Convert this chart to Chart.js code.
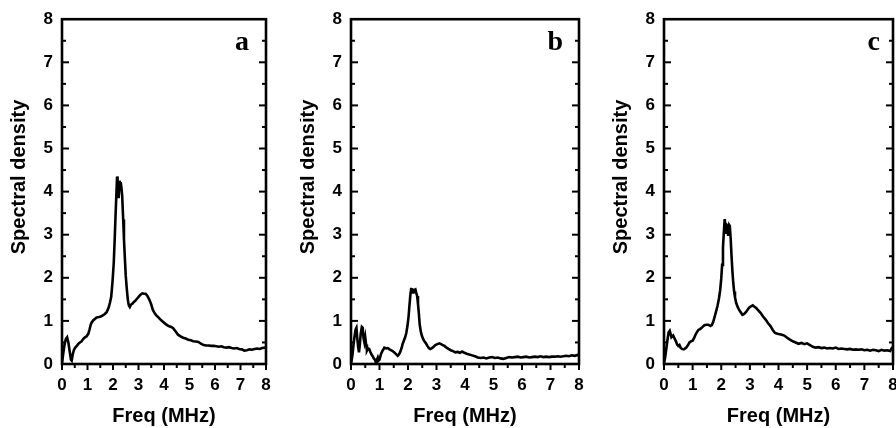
<!DOCTYPE html>
<html>
<head>
<meta charset="utf-8">
<script src="https://cdn.jsdelivr.net/npm/chart.js@4/dist/chart.umd.min.js"></script>
<style>
  html, body { margin:0; padding:0; background:#fff; overflow:hidden; width:896px; height:428px; }
  .pane { position:absolute; top:0; }
</style>
</head>
<body>
<div class="pane" style="left:0px"><canvas id="ca" width="300" height="428"></canvas></div>
<div class="pane" style="left:300px"><canvas id="cb" width="300" height="428"></canvas></div>
<div class="pane" style="left:600px"><canvas id="cc" width="310" height="428"></canvas></div>
<script>
// ---------- data ----------
const xTicks = [0,1,2,3,4,5,6,7,8];
const yTicks = [0,1,2,3,4,5,6,7,8];
const panelLetters = ['a','b','c'];
const xTitle = 'Freq (MHz)';
const yTitle = 'Spectral density';

const freqA = [0.00,0.05,0.10,0.15,0.20,0.25,0.30,0.35,0.38,0.42,0.47,0.52,0.58,0.63,0.70,0.76,0.83,0.90,0.96,1.03,1.08,1.12,1.16,1.22,1.30,1.36,1.45,1.52,1.60,1.68,1.75,1.83,1.88,1.93,1.98,2.03,2.07,2.10,2.13,2.16,2.18,2.20,2.22,2.24,2.26,2.28,2.30,2.33,2.36,2.40,2.43,2.47,2.50,2.54,2.58,2.62,2.66,2.71,2.76,2.82,2.88,2.95,3.02,3.08,3.15,3.22,3.28,3.35,3.42,3.50,3.56,3.63,3.70,3.78,3.88,3.98,4.08,4.18,4.28,4.36,4.45,4.55,4.65,4.75,4.85,4.95,5.05,5.15,5.25,5.35,5.45,5.55,5.65,5.75,5.85,5.95,6.05,6.15,6.25,6.35,6.45,6.55,6.65,6.75,6.85,6.95,7.05,7.15,7.25,7.35,7.45,7.55,7.65,7.75,7.85,7.95,8.00];
const densA = [0.02,0.25,0.45,0.58,0.62,0.50,0.30,0.10,0.08,0.22,0.33,0.38,0.42,0.46,0.50,0.52,0.58,0.62,0.64,0.70,0.80,0.90,0.96,1.01,1.05,1.08,1.09,1.10,1.13,1.16,1.20,1.31,1.42,1.56,1.90,2.35,2.95,3.45,3.90,4.35,4.25,3.95,3.85,4.05,4.25,4.18,4.22,4.10,3.90,3.35,2.90,2.40,2.05,1.75,1.50,1.36,1.32,1.38,1.40,1.44,1.47,1.52,1.57,1.61,1.64,1.63,1.63,1.58,1.50,1.38,1.26,1.18,1.13,1.08,1.02,0.97,0.92,0.88,0.86,0.83,0.76,0.68,0.64,0.61,0.59,0.56,0.55,0.53,0.52,0.51,0.47,0.44,0.43,0.43,0.42,0.42,0.41,0.40,0.41,0.39,0.38,0.39,0.37,0.36,0.37,0.35,0.34,0.31,0.32,0.34,0.33,0.35,0.36,0.35,0.37,0.38,0.37];

const freqB = [0.00,0.05,0.08,0.12,0.16,0.19,0.22,0.25,0.28,0.31,0.34,0.38,0.41,0.44,0.47,0.50,0.53,0.56,0.60,0.64,0.68,0.72,0.76,0.80,0.84,0.88,0.91,0.94,0.97,1.00,1.05,1.10,1.17,1.23,1.29,1.35,1.40,1.46,1.52,1.58,1.64,1.68,1.72,1.77,1.81,1.86,1.90,1.94,1.98,2.02,2.05,2.08,2.11,2.14,2.17,2.20,2.23,2.26,2.29,2.32,2.35,2.38,2.41,2.45,2.49,2.53,2.58,2.63,2.68,2.73,2.78,2.84,2.90,2.96,3.03,3.10,3.16,3.22,3.28,3.35,3.42,3.50,3.58,3.66,3.74,3.82,3.90,3.98,4.06,4.15,4.25,4.35,4.45,4.55,4.65,4.75,4.85,4.95,5.05,5.15,5.25,5.35,5.45,5.55,5.65,5.75,5.85,5.95,6.05,6.15,6.25,6.35,6.45,6.55,6.65,6.75,6.85,6.95,7.05,7.15,7.25,7.35,7.45,7.55,7.65,7.75,7.85,7.95,8.00];
const densB = [0.00,0.20,0.40,0.62,0.80,0.84,0.60,0.40,0.27,0.45,0.70,0.86,0.84,0.60,0.50,0.62,0.45,0.31,0.36,0.35,0.28,0.22,0.18,0.13,0.10,0.02,0.10,0.15,0.08,0.10,0.23,0.30,0.38,0.36,0.37,0.34,0.32,0.30,0.27,0.23,0.19,0.22,0.27,0.36,0.46,0.55,0.62,0.72,0.88,1.10,1.35,1.58,1.74,1.76,1.66,1.66,1.72,1.73,1.65,1.58,1.40,1.18,0.92,0.75,0.65,0.58,0.52,0.48,0.42,0.37,0.35,0.37,0.40,0.44,0.46,0.48,0.46,0.44,0.42,0.38,0.35,0.32,0.30,0.27,0.28,0.26,0.29,0.26,0.24,0.22,0.20,0.18,0.15,0.14,0.15,0.13,0.15,0.16,0.14,0.15,0.13,0.12,0.14,0.16,0.15,0.16,0.17,0.15,0.16,0.17,0.15,0.16,0.17,0.16,0.18,0.16,0.17,0.16,0.17,0.17,0.18,0.17,0.18,0.19,0.18,0.20,0.19,0.21,0.20];

const freqC = [0.00,0.04,0.08,0.12,0.16,0.20,0.23,0.26,0.29,0.32,0.35,0.38,0.42,0.46,0.50,0.54,0.58,0.63,0.69,0.74,0.79,0.84,0.89,0.95,1.00,1.05,1.10,1.15,1.20,1.26,1.33,1.41,1.48,1.55,1.62,1.67,1.72,1.77,1.82,1.87,1.92,1.96,2.00,2.03,2.06,2.09,2.12,2.14,2.16,2.18,2.20,2.22,2.24,2.26,2.28,2.30,2.33,2.36,2.39,2.42,2.45,2.48,2.52,2.57,2.62,2.68,2.74,2.80,2.86,2.92,2.98,3.04,3.10,3.16,3.22,3.30,3.38,3.46,3.55,3.63,3.72,3.80,3.88,3.96,4.04,4.12,4.20,4.28,4.36,4.44,4.52,4.60,4.70,4.80,4.90,5.00,5.10,5.20,5.30,5.40,5.50,5.60,5.70,5.80,5.90,6.00,6.10,6.20,6.30,6.40,6.50,6.60,6.70,6.80,6.90,7.00,7.10,7.20,7.30,7.40,7.50,7.60,7.70,7.80,7.90,7.95,8.00];
const densC = [0.02,0.15,0.35,0.55,0.73,0.77,0.70,0.62,0.64,0.66,0.62,0.62,0.52,0.45,0.42,0.44,0.38,0.35,0.34,0.36,0.39,0.44,0.50,0.53,0.54,0.60,0.68,0.74,0.79,0.81,0.85,0.90,0.91,0.91,0.88,0.90,0.98,1.10,1.22,1.35,1.52,1.70,1.98,2.30,2.70,3.05,3.36,3.25,3.02,3.10,3.22,3.20,3.00,3.05,3.22,3.20,2.90,2.50,2.15,1.88,1.68,1.55,1.42,1.33,1.26,1.20,1.14,1.16,1.20,1.26,1.31,1.34,1.36,1.33,1.30,1.24,1.18,1.10,1.03,0.95,0.88,0.79,0.72,0.70,0.69,0.68,0.66,0.62,0.58,0.55,0.52,0.50,0.47,0.49,0.46,0.48,0.44,0.40,0.38,0.39,0.37,0.38,0.36,0.37,0.36,0.38,0.35,0.36,0.35,0.34,0.35,0.33,0.34,0.33,0.34,0.32,0.33,0.31,0.33,0.32,0.30,0.33,0.31,0.32,0.30,0.36,0.40];

// ---------- rendering ----------
const SANS = '"Liberation Sans", Arial, sans-serif';
const SERIF = '"Liberation Serif", "Times New Roman", serif';

const framePlugin = {
  id: 'frame',
  afterDraw(chart, args, opts) {
    const { ctx, chartArea: a, scales: { x, y } } = chart;
    ctx.save();
    ctx.strokeStyle = '#000';
    ctx.lineWidth = 2.6;
    ctx.strokeRect(a.left, a.top, a.right - a.left, a.bottom - a.top);
    ctx.lineWidth = 2;
    const seg = (x1, y1, x2, y2) => { ctx.beginPath(); ctx.moveTo(x1, y1); ctx.lineTo(x2, y2); ctx.stroke(); };
    for (let i = 0; i <= 16; i++) {
      const v = i / 2;
      const major = i % 2 === 0;
      const py = y.getPixelForValue(v);
      const L = major ? 7 : 4;
      if (i > 0 && i < 16) {
        seg(a.left, py, a.left + L, py);
        seg(a.right, py, a.right - L, py);
      }
      const px = x.getPixelForValue(v);
      seg(px, a.bottom, px, a.bottom + (major ? 6 : 4));
    }
    ctx.fillStyle = '#000';
    // panel letter
    ctx.font = 'bold 28px ' + SERIF;
    ctx.textAlign = 'right';
    ctx.textBaseline = 'alphabetic';
    ctx.fillText(opts.letter, a.right - opts.letterOff, 50);
    // x title
    ctx.font = 'bold 20px ' + SANS;
    ctx.textAlign = 'center';
    ctx.textBaseline = 'middle';
    ctx.fillText(xTitle, (a.left + a.right) / 2, 416);
    // y title
    ctx.translate(a.left - 43, 177);
    ctx.rotate(-Math.PI / 2);
    ctx.fillText(yTitle, 0, 0);
    ctx.restore();
  }
};

function makeChart(id, freq, dens, letter, yAxisW, padRight, letterOff) {
  const pts = freq.map((f, i) => ({ x: f, y: dens[i] }));
  return new Chart(document.getElementById(id), {
    type: 'line',
    data: { datasets: [{ data: pts, borderColor: '#000', borderWidth: 2.6, pointRadius: 0, tension: 0, fill: false }] },
    options: {
      responsive: false,
      animation: false,
      layout: { padding: { left: 0, right: padRight, top: 17, bottom: 0 } },
      plugins: { legend: { display: false }, tooltip: { enabled: false }, frame: { letter, letterOff } },
      scales: {
        x: {
          type: 'linear', min: 0, max: 8,
          afterBuildTicks: s => { s.ticks = xTicks.map(v => ({ value: v })); },
          afterFit: s => { s.height = 64; },
          grid: { display: false, drawTicks: false },
          border: { display: false },
          ticks: { color: '#000', font: { family: SANS, weight: 'bold', size: 17 }, padding: 11, maxRotation: 0 }
        },
        y: {
          type: 'linear', min: 0, max: 8,
          afterBuildTicks: s => { s.ticks = yTicks.map(v => ({ value: v })); },
          afterFit: s => { s.width = yAxisW; },
          grid: { display: false, drawTicks: false },
          border: { display: false },
          ticks: { color: '#000', font: { family: SANS, weight: 'bold', size: 17 }, padding: 9 }
        }
      }
    },
    plugins: [framePlugin]
  });
}

makeChart('ca', freqA, densA, panelLetters[0], 62, 34, 17);
makeChart('cb', freqB, densB, panelLetters[1], 51, 21, 16);
makeChart('cc', freqC, densC, panelLetters[2], 64, 17, 13);
</script>
</body>
</html>
